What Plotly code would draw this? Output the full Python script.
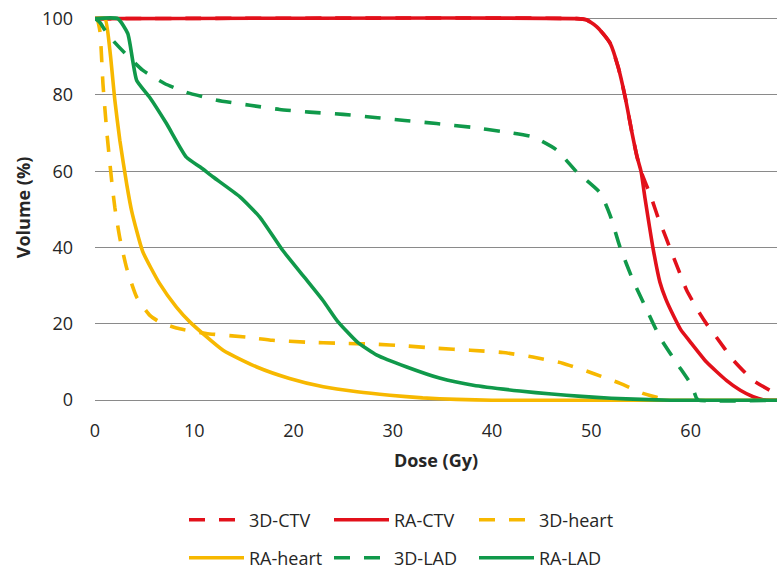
import plotly.graph_objects as go

# ---- data (dose in Gy, volume in %) ----
dose_3d_ctv = [0, 48.5, 49.5, 50.5, 51.2, 51.9, 52.7, 53.4, 54.1, 54.6, 55.0, 55.6, 56.1, 56.7, 57.2,
               57.9, 58.8, 59.6, 60.9, 61.6, 62.6, 64.3, 66.3, 68.5, 69.5]
vol_3d_ctv = [100, 100, 99.7, 98, 96, 93.5, 87.3, 79.5, 70, 63.8, 60, 56, 52.6, 48, 44.7,
              40, 34, 28.8, 22.8, 20, 16.5, 10.5, 5.2, 1.9, 1.2]

dose_ra_ctv = [0, 48.5, 49.5, 50.5, 51.2, 51.9, 52.7, 53.4, 54.1, 54.6, 55.0, 55.4, 55.7, 56.2,
               56.9, 57.5, 58.3, 59.0, 59.9, 61.6, 63.6, 65.0, 66.3, 67.3, 68.0, 69.5]
vol_ra_ctv = [100, 100, 99.7, 98, 96, 93.5, 87.3, 79.5, 70, 63.8, 60, 53, 48, 40,
              31, 26.5, 22, 18.5, 15.5, 10, 5.2, 2.6, 0.9, 0.1, 0, 0]

dose_3d_heart = [0, 0.2, 0.5, 0.8, 1.2, 1.7, 2, 2.5, 3.2, 4.2, 5.5, 6.5, 8.2, 11.2, 15.3, 17.9,
                 21.3, 24.7, 28, 31.4, 34.4, 37.8, 41.1, 44.1, 47.1, 50.2, 52.9, 55.2, 56.9, 57.5]
vol_3d_heart = [100, 100, 96.6, 83, 70, 57, 50.5, 42.5, 34.5, 27, 22.3, 20.5, 18.9, 17.5, 16.5, 15.7,
                15.2, 14.9, 14.7, 14.2, 13.6, 13.1, 12.5, 11.3, 9.7, 7, 4.4, 1.8, 0.5, 0]

dose_ra_heart = [0, 1, 1.5, 2, 2.5, 3.2, 3.7, 4.8, 6.5, 8.2, 9.6, 12.9, 16.3, 19.6, 23, 26.4,
                 29.7, 33, 36.4, 40, 69.5]
vol_ra_heart = [100, 100, 91.7, 78.6, 68.1, 56.5, 49.5, 39, 30.6, 24.4, 20.4, 13.1, 8.7, 5.7, 3.5, 2.2,
                1.3, 0.6, 0.2, 0, 0]

dose_3d_lad = [0, 0.5, 1, 1.8, 3, 4.8, 7, 9.2, 12.3, 15.6, 18.6, 21.6, 25, 28.2, 31.2, 34.4, 38,
               40.8, 44.1, 46.5, 48.5, 50.9, 51.9, 52.9, 54.2, 55.6, 56.9, 58.6, 60.1, 60.6, 60.8, 69.5]
vol_3d_lad = [100, 99, 97, 94.3, 91, 86.5, 83, 80.7, 78.6, 77.3, 76.2, 75.5, 74.9, 74.1, 73.3, 72.5, 71.5,
              70.5, 69, 65.6, 59.9, 54.3, 48.4, 40, 31.4, 23.6, 16.5, 9.7, 3.9, 0.5, 0, 0]

dose_ra_lad = [0, 2.3, 3.3, 3.8, 4.2, 5.5, 7.2, 9.2, 10.6, 11.9, 14.6, 16.6, 18.9, 21, 23, 24.4,
               26.4, 28.4, 31.4, 34.7, 38.1, 42.8, 46, 49, 52, 55, 58, 69.5]
vol_ra_lad = [100, 100, 96.1, 89, 83.8, 79.4, 72.5, 63.7, 61.1, 58.5, 53.3, 48, 39.3, 32.5, 26, 20.8,
              15.3, 11.8, 8.7, 5.8, 3.9, 2.4, 1.6, 1.0, 0.5, 0.2, 0, 0]

x_ticks = [0, 10, 20, 30, 40, 50, 60, 70]
y_ticks = [0, 20, 40, 60, 80, 100]

RED = "#E2101A"
YEL = "#F7B800"
GRN = "#10994A"
DASH = "16px,14px"
FONT = "Open Sans"
TXT = "#262626"

series = [
    ("3D-CTV", dose_3d_ctv, vol_3d_ctv, RED, DASH, "legend"),
    ("RA-CTV", dose_ra_ctv, vol_ra_ctv, RED, "solid", "legend"),
    ("3D-heart", dose_3d_heart, vol_3d_heart, YEL, DASH, "legend"),
    ("RA-heart", dose_ra_heart, vol_ra_heart, YEL, "solid", "legend2"),
    ("3D-LAD", dose_3d_lad, vol_3d_lad, GRN, DASH, "legend2"),
    ("RA-LAD", dose_ra_lad, vol_ra_lad, GRN, "solid", "legend2"),
]

fig = go.Figure()
for name, xs, ys, col, dash, lg in series:
    fig.add_trace(go.Scatter(
        x=xs, y=ys, mode="lines", name=name, legend=lg,
        line=dict(color=col, width=3.6, dash=dash, shape="spline", smoothing=0.5),
    ))

W, H = 777, 569

legend_common = dict(
    orientation="h", xref="container", yref="container",
    xanchor="left", yanchor="middle",
    font=dict(family=FONT, size=18, color=TXT),
    entrywidth=75, entrywidthmode="pixels", itemwidth=55,
    bgcolor="rgba(0,0,0,0)", traceorder="normal",
)

fig.update_layout(
    width=W, height=H,
    margin=dict(l=95, r=0, t=11, b=165, autoexpand=False),
    paper_bgcolor="white", plot_bgcolor="white",
    font=dict(family=FONT, size=18, color=TXT),
    showlegend=True,
    legend=dict(x=184 / W, y=(H - 520) / H, **legend_common),
    legend2=dict(x=184 / W, y=(H - 558) / H, **legend_common),
    xaxis=dict(
        range=[0, 68.7], tickvals=x_ticks, showgrid=False, zeroline=False, showline=False,
        ticks="", ticklabelstandoff=14, automargin=False, ticklabeloverflow="allow",
        tickfont=dict(family=FONT, size=18, color=TXT),
        title=dict(text="<b>Dose (Gy)</b>", font=dict(family=FONT, size=18, color=TXT), standoff=13),
    ),
    yaxis=dict(
        range=[-1, 102], tickvals=y_ticks, showgrid=True, gridcolor="#8a8a8a", gridwidth=1.3,
        zeroline=False, showline=False, ticks="", ticklabelstandoff=21, automargin=False,
        ticklabeloverflow="allow",
        tickfont=dict(family=FONT, size=18, color=TXT),
        title=dict(text="<b>Volume (%)</b>", font=dict(family=FONT, size=18, color=TXT), standoff=6),
    ),
)

# remove the browser's default 8px body margin so the figure fills the window exactly
fig.write_html("out.html", config={"displayModeBar": False},
               post_script="document.body.style.margin='0px';")
